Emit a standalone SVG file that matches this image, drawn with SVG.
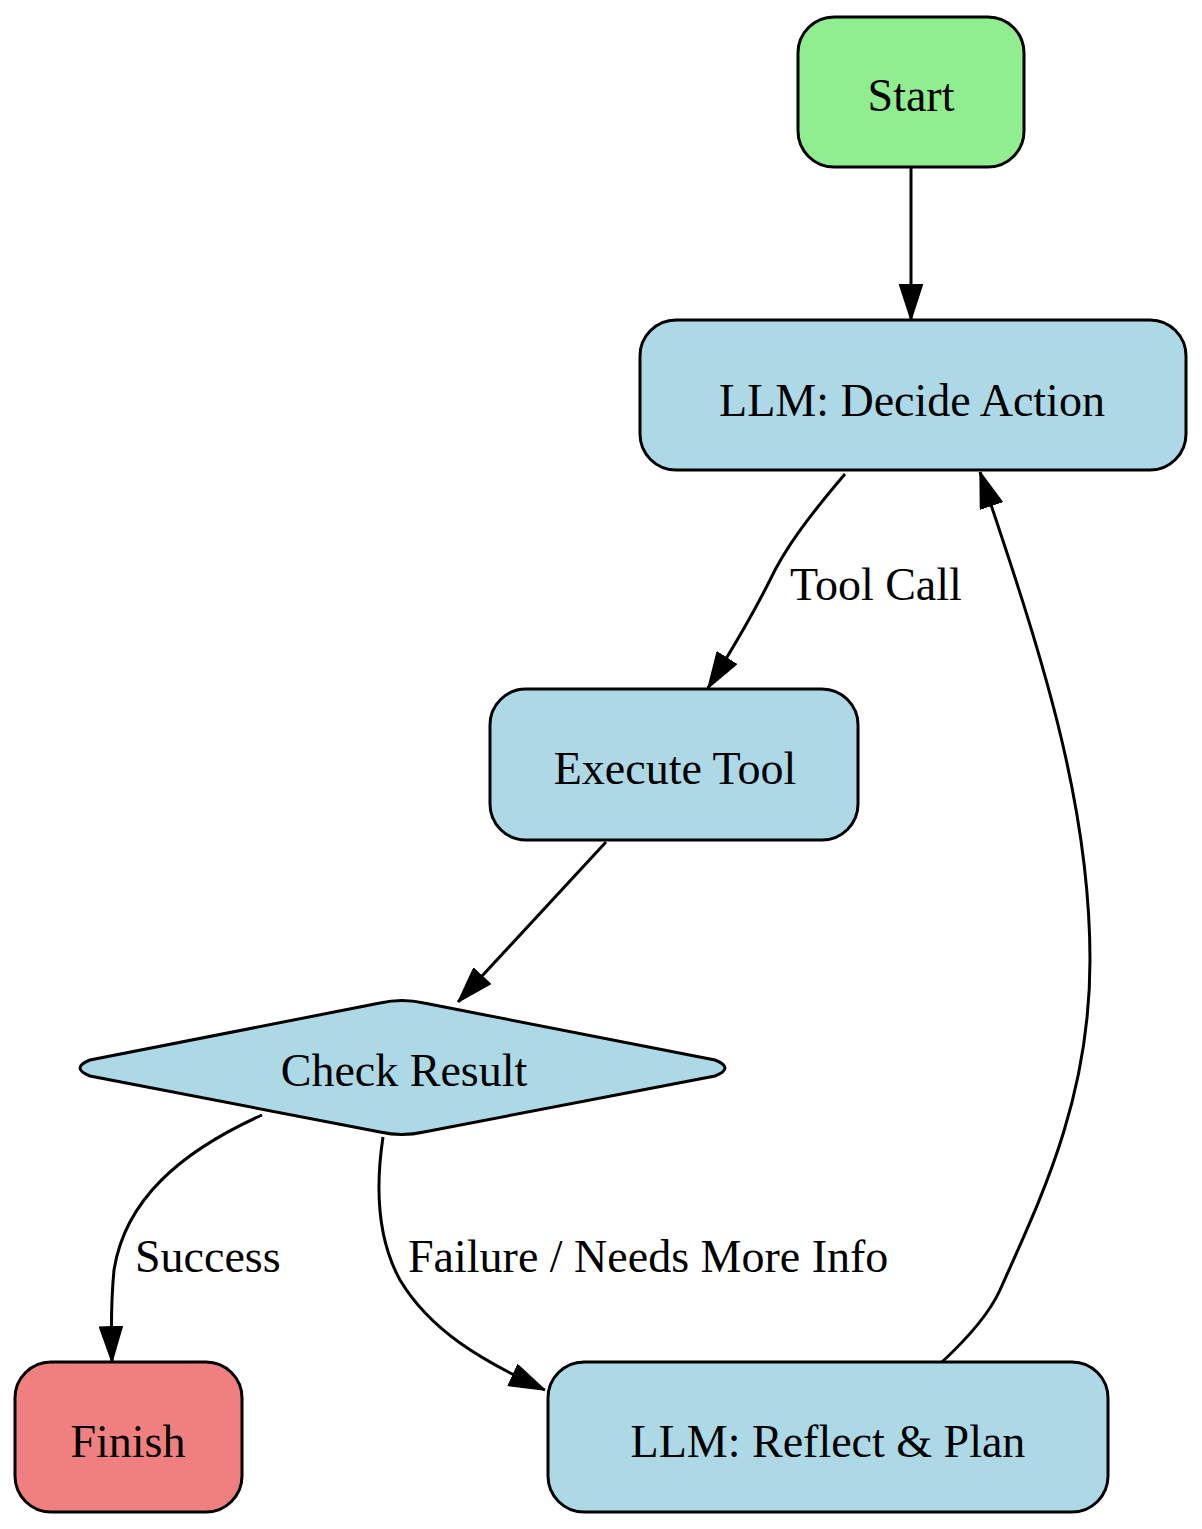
<svg xmlns="http://www.w3.org/2000/svg" width="1202" height="1529" viewBox="0 0 1202 1529">
<style>
.n{stroke:#000;stroke-width:3}
.b{fill:#add8e6}
text{font-family:"Liberation Serif","Times New Roman",serif;font-size:46px;fill:#000}
.t{text-anchor:middle}
.e{fill:none;stroke:#000;stroke-width:3}
</style>
<defs>
<marker id="a" viewBox="0 0 12 10" refX="12" refY="5" markerWidth="12" markerHeight="10" markerUnits="userSpaceOnUse" orient="auto" overflow="visible">
<path d="M0,0 L12,5 L0,10 Z" fill="#000" stroke="#000" stroke-width="0.5" transform="scale(1)"/>
</marker>
<marker id="m" viewBox="0 0 36 24" refX="36" refY="12" markerWidth="36" markerHeight="24" markerUnits="userSpaceOnUse" orient="auto">
<path d="M1,1 L35,12 L1,23 Z" fill="#000" stroke="#000" stroke-width="2"/>
</marker>
</defs>
<rect width="1202" height="1529" fill="#fff"/>
<g id="edges">
<path class="e" d="M911,167 L911,320" marker-end="url(#m)"/>
<path class="e" d="M845,474 C810,515 785,548 770,580 C755,610 735,645 708,688" marker-end="url(#m)"/>
<path class="e" d="M606,842 L458,1002" marker-end="url(#m)"/>
<path class="e" d="M262,1115 C180,1152 125,1200 114,1270 C111,1300 111,1330 112,1362" marker-end="url(#m)"/>
<path class="e" d="M383,1137 C375,1190 378,1240 400,1280 C430,1330 480,1360 545,1390" marker-end="url(#m)"/>
<path class="e" d="M942,1362 C970,1336 990,1312 1000,1290 C1040,1200 1090,1100 1090,960 C1090,800 1040,650 980,472" marker-end="url(#m)"/>
<text x="790" y="600">Tool Call</text>
<text x="135" y="1272">Success</text>
<text x="408" y="1272">Failure / Needs More Info</text>
</g>
<g id="start"><rect class="n" x="798" y="17" width="226" height="150" rx="36" fill="#90ee90"/><text class="t" x="911" y="111">Start</text></g>
<g id="decide"><rect class="n b" x="640" y="320" width="546" height="150" rx="36"/><text class="t" x="912" y="416">LLM: Decide Action</text></g>
<g id="execute"><rect class="n b" x="490" y="689" width="368" height="151" rx="36"/><text class="t" x="675" y="784">Execute Tool</text></g>
<g id="check"><path class="n b" d="M380,1003 Q402,998 424,1003 L715,1060 Q735,1068 715,1076 L424,1132 Q402,1137 380,1132 L90,1076 Q70,1068 90,1060 Z"/><text class="t" x="404" y="1086">Check Result</text></g>
<g id="finish"><rect class="n" x="15" y="1362" width="227" height="150" rx="36" fill="#f08080"/><text class="t" x="128" y="1457">Finish</text></g>
<g id="reflect"><rect class="n b" x="548" y="1362" width="560" height="150" rx="36"/><text class="t" x="828" y="1457">LLM: Reflect &amp; Plan</text></g>
</svg>
